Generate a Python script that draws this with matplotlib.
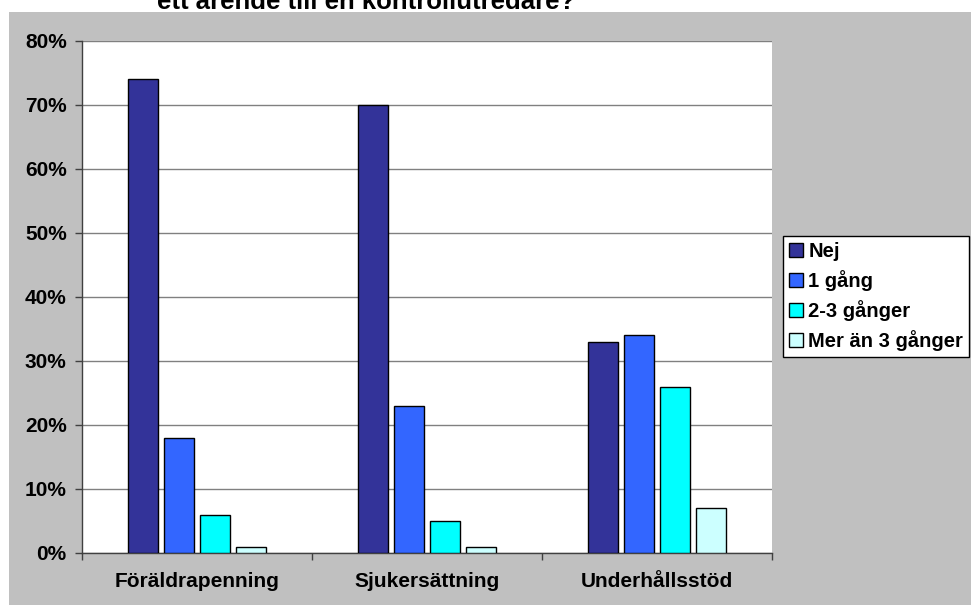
import matplotlib
matplotlib.use("Agg")
import matplotlib.pyplot as plt
import numpy as np

categories = ["Föräldrapenning", "Sjukersättning", "Underhållsstöd"]
series = ["Nej", "1 gång", "2-3 gånger", "Mer än 3 gånger"]
nej = [74, 70, 33]
en_gang = [18, 23, 34]
tva_tre = [6, 5, 26]
mer_an_tre = [1, 1, 7]
values = [nej, en_gang, tva_tre, mer_an_tre]
colors = ["#333399", "#3366FF", "#00FFFF", "#CCFFFF"]
yticks = [0, 10, 20, 30, 40, 50, 60, 70, 80]
title = "ett ärende till en kontrollutredare?"

plt.rcParams["font.family"] = ["Liberation Sans", "DejaVu Sans"]
plt.rcParams["font.weight"] = "bold"

W, H = 971, 605
fig = plt.figure(figsize=(W / 100, H / 100), dpi=100)
fig.patch.set_facecolor("white")

# gray chart area as a background axes
bg = fig.add_axes([9 / W, 0, 1 - 9 / W, 1 - 12 / H], zorder=-1)
bg.set_facecolor("#C0C0C0")
bg.set_xticks([])
bg.set_yticks([])
for s in bg.spines.values():
    s.set_visible(False)

ax = fig.add_axes([82 / W, 1 - 553 / H, (772 - 82) / W, (553 - 41) / H])
ax.set_facecolor("white")

x = np.arange(len(categories))
width = 0.13
step = 0.157
for i, (vals, c, name) in enumerate(zip(values, colors, series)):
    ax.bar(x + (i - 1.5) * step, vals, width, color=c, edgecolor="black",
           linewidth=1, label=name, zorder=3)

ax.set_xlim(-0.5, 2.5)
ax.set_ylim(0, 80)
ax.set_yticks(yticks)
ax.set_yticklabels([f"{t}%" for t in yticks], fontsize=15, fontweight="bold")
ax.set_xticks(x)
ax.set_xticklabels(categories, fontsize=15, fontweight="bold")
ax.set_xticks([-0.5, 0.5, 1.5, 2.5], minor=True)
ax.tick_params(axis="x", which="major", length=0, pad=14)
ax.tick_params(axis="x", which="minor", length=5, color="#404040", width=1)
ax.tick_params(axis="y", length=5, color="#404040", width=1, pad=6)
ax.grid(axis="y", color="#808080", linewidth=1, zorder=1)
for s in ["top", "right"]:
    ax.spines[s].set_visible(False)
for s in ["left", "bottom"]:
    ax.spines[s].set_color("#404040")
    ax.spines[s].set_linewidth(1)

handles, labels = ax.get_legend_handles_labels()
leg = fig.legend(handles, labels, loc="upper left", bbox_to_anchor=(783 / W, 1 - 236 / H),
                 prop={"size": 14.5, "weight": "bold"}, frameon=True, fancybox=False,
                 handlelength=0.7, handleheight=0.7, handletextpad=0.25,
                 labelspacing=0.45, borderpad=0.3, borderaxespad=0)
leg.get_frame().set_edgecolor("black")
leg.get_frame().set_facecolor("white")
leg.get_frame().set_alpha(1)
leg.get_frame().set_linewidth(1)

# title sits mostly above the top edge, only its lower part shows
fig.text(157 / W, 1 - 9 / H, title, fontsize=18.5, fontweight="bold", va="baseline", ha="left")

fig.savefig("out.png", dpi=100, facecolor=fig.get_facecolor())
